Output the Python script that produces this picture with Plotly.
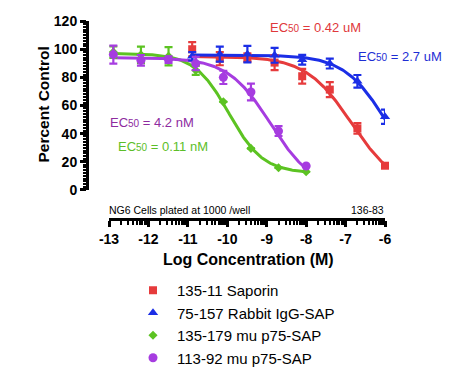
import numpy as np
import plotly.graph_objects as go

# the page body has an 8px margin, so the figure is drawn 8px in from the window corner
OFF = 8
W, H = 455 - OFF, 382 - OFF

# ---- data (log molar concentration, percent control, SEM) ----
x_saporin = [-10.89, -10.19, -9.49, -8.80, -8.10, -7.40, -6.70, -6.00]
y_saporin = [100.0, 93.3, 94.0, 90.5, 80.8, 71.3, 43.7, 17.2]
e_saporin = [5.0, 4.7, 3.0, 5.3, 5.3, 5.3, 3.8, 0.0]

x_rabbit = [-10.89, -10.19, -9.49, -8.80, -8.10, -7.40, -6.70, -6.00]
y_rabbit = [95.0, 96.5, 96.5, 95.7, 92.5, 89.8, 77.2, 52.0]
e_rabbit = [3.0, 5.3, 5.9, 5.3, 3.5, 3.5, 4.5, 5.0]

x_p75a = [-12.89, -12.19, -11.49, -10.80, -10.10, -9.40, -8.70, -8.00]
y_p75a = [98.0, 96.0, 95.0, 85.0, 62.6, 29.5, 15.7, 12.9]
e_p75a = [4.1, 5.9, 6.5, 3.2, 0.0, 0.0, 0.0, 0.0]

x_p75b = [-12.89, -12.19, -11.49, -10.80, -10.10, -9.40, -8.70, -8.00]
y_p75b = [96.2, 92.1, 92.6, 89.8, 80.0, 69.6, 41.8, 17.0]
e_p75b = [6.4, 3.8, 2.4, 4.7, 4.7, 5.9, 3.5, 0.0]

# fitted 4-parameter logistic curves: top, bottom, logEC50, hill
fit_saporin = (95.0, 0.0, -6.85, 0.75)
fit_rabbit = (96.0, 0.0, -5.95, 0.8)
fit_p75a = (97.0, 12.0, -9.96, 1.0)
fit_p75b = (94.0, 0.0, -8.90, 0.8)

names = ["135-11 Saporin", "75-157 Rabbit IgG-SAP", "135-179 mu p75-SAP", "113-92 mu p75-SAP"]
ec50_text = ["0.42 uM", "2.7 uM", "0.11 nM", "4.2 nM"]

x_ticks = [-13, -12, -11, -10, -9, -8, -7, -6]
y_ticks = [0, 20, 40, 60, 80, 100, 120]

colors = ["#E63B3C", "#1B2EE6", "#5CC322", "#A63CE0"]
text_colors = ["#E0383B", "#1E2ED4", "#5CBE28", "#8E2B9F"]
symbols = ["square", "triangle-up", "diamond", "circle"]
msizes = [8, 9, 7, 9]

series = [
    (x_saporin, y_saporin, e_saporin, fit_saporin),
    (x_rabbit, y_rabbit, e_rabbit, fit_rabbit),
    (x_p75a, y_p75a, e_p75a, fit_p75a),
    (x_p75b, y_p75b, e_p75b, fit_p75b),
]


def px(x):
    return (x - OFF) / W


def py(y):
    return 1 - (y - OFF) / H


def logistic(x, p):
    top, bottom, logec, hill = p
    return bottom + (top - bottom) / (1 + 10 ** ((x - logec) * hill))


fig = go.Figure()
FONT = "Liberation Sans, Arial, Helvetica, sans-serif"

# fitted curves
for (xs, ys, es, fit), c in zip(series, colors):
    xx = np.linspace(min(xs), max(xs), 200)
    fig.add_trace(go.Scatter(x=xx, y=logistic(xx, fit), mode="lines",
                             line=dict(color=c, width=3), showlegend=False,
                             hoverinfo="skip", cliponaxis=False))

# data points with error bars
for (xs, ys, es, fit), c, s, ms, n in zip(series, colors, symbols, msizes, names):
    fig.add_trace(go.Scatter(
        x=xs, y=ys, mode="markers", name=n,
        marker=dict(color=c, symbol=s, size=ms, line=dict(width=0)),
        error_y=dict(type="data", array=es, visible=True, color=c, thickness=2.2, width=4),
        cliponaxis=False,
    ))

# log-spaced minor ticks on the concentration axis
minor_x = [d + np.log10(k) for d in x_ticks[:-1] for k in range(2, 10)]

fig.update_layout(
    width=W, height=H,
    margin=dict(l=0, r=0, t=0, b=0, pad=0, autoexpand=False),
    paper_bgcolor="white", plot_bgcolor="white",
    font=dict(family=FONT, color="black"),
    xaxis=dict(
        domain=[px(109), px(385)], range=[-13, -6],
        anchor="free", position=py(219), automargin=False,
        showgrid=False, zeroline=False,
        showline=True, linewidth=3, linecolor="black",
        tickvals=x_ticks, ticktext=[str(v) for v in x_ticks],
        ticks="outside", ticklen=6, tickwidth=2.5, tickcolor="black",
        tickfont=dict(size=14, family=FONT, weight="bold", color="black"),
        minor=dict(tickvals=minor_x, ticks="outside", ticklen=4, tickwidth=1.5, tickcolor="black"),
    ),
    yaxis=dict(
        domain=[py(189.9), py(21.1)], range=[0, 120],
        anchor="free", position=px(87), automargin=False,
        showgrid=False, zeroline=False,
        showline=True, linewidth=3, linecolor="black",
        tickvals=y_ticks,
        ticks="outside", ticklen=6, tickwidth=2.5, tickcolor="black",
        tickfont=dict(size=14, family=FONT, weight="bold", color="black"),
        minor=dict(dtick=2, ticks="outside", ticklen=3.5, tickwidth=1.5, tickcolor="black"),
    ),
    legend=dict(
        x=px(129), y=py(274), xanchor="left", yanchor="top",
        font=dict(size=15, family=FONT, color="black"),
        itemwidth=38, bgcolor="rgba(0,0,0,0)", tracegroupgap=0,
    ),
)

annotations = [
    dict(text="Percent Control", x=px(33), y=py(105), textangle=-90,
         font=dict(size=15.5, weight="bold")),
    dict(text="Log Concentration (M)", x=px(248), y=py(259),
         font=dict(size=16, weight="bold")),
    dict(text="NG6 Cells plated at 1000 /well", x=px(107), y=py(210), xanchor="left",
         font=dict(size=10.5)),
    dict(text="136-83", x=px(386), y=py(210), xanchor="right", font=dict(size=10.5)),
]
ec_pos = [(268, 27.7), (356, 57), (116, 147), (108, 122.5)]
for (lx, ly), t, tc in zip(ec_pos, ec50_text, text_colors):
    annotations.append(dict(
        text="EC<span style='font-size:10px'>50</span> = " + t,
        x=px(lx), y=py(ly), xanchor="left", font=dict(size=13, color=tc)))

for a in annotations:
    a.setdefault("xref", "paper")
    a.setdefault("yref", "paper")
    a.setdefault("showarrow", False)
    a.setdefault("yanchor", "middle")
    a["font"].setdefault("family", FONT)
    a["font"].setdefault("color", "black")
fig.update_layout(annotations=annotations)

fig.write_html("out.html")
